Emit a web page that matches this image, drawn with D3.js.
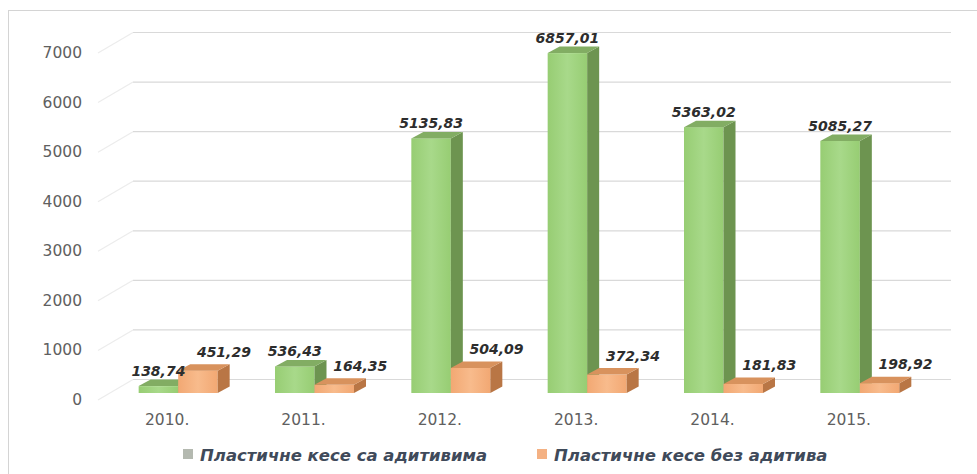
<!DOCTYPE html>
<html>
<head>
<meta charset="utf-8">
<script src="https://cdn.jsdelivr.net/npm/d3@7/dist/d3.min.js"></script>
<style>
  body { margin: 0; background: #fff; }
  svg { display: block; }
</style>
</head>
<body>
<div id="chart"></div>
<script>
// Data
const years = ["2010.", "2011.", "2012.", "2013.", "2014.", "2015."];
const withAdditives = [138.74, 536.43, 5135.83, 6857.01, 5363.02, 5085.27];
const withoutAdditives = [451.29, 164.35, 504.09, 372.34, 181.83, 198.92];
const seriesNames = ["Пластичне кесе са адитивима", "Пластичне кесе без адитива"];
const yTicks = [0, 1000, 2000, 3000, 4000, 5000, 6000, 7000];

const width = 977, height = 474;
const depth = {dx: 12, dy: -6.5};   // bar depth
const wall = {dx: 23, dy: -13.5};   // back wall offset

const svg = d3.select("#chart").append("svg")
    .attr("width", width)
    .attr("height", height);

// chart border (cut off on right / bottom like the picture)
svg.append("rect")
    .attr("x", 8.5).attr("y", 10.5)
    .attr("width", 980).attr("height", 480)
    .attr("fill", "none")
    .attr("stroke", "#d4d4d4");

let x = d3.scaleBand().domain(years).range([110, 928]);
let y = d3.scaleLinear().domain([0, 7000]).range([393, 46]);
let sub = d3.scaleBand().domain([0, 1])
    .range([x.bandwidth() / 2 - 39.5, x.bandwidth() / 2 + 39.5]);

// gradients
let defs = svg.append("defs");
function grad(id, c1, c2) {
    let g = defs.append("linearGradient").attr("id", id)
        .attr("x1", "0%").attr("x2", "100%");
    g.append("stop").attr("offset", "0%").attr("stop-color", c1);
    g.append("stop").attr("offset", "50%").attr("stop-color", c2);
    g.append("stop").attr("offset", "100%").attr("stop-color", c1);
}
grad("gGreen", "#97cd73", "#a8d98a");
grad("gOrange", "#f2a873", "#f8bb8c");

const colors = [
    {front: "url(#gGreen)", side: "#6d9450", top: "#82ad63"},
    {front: "url(#gOrange)", side: "#b97645", top: "#d8925d"}
];

// back wall gridlines
let x0 = x.range()[0], x1 = x.range()[1];
svg.append("g").selectAll("line").data(yTicks).enter().append("line")
    .attr("x1", x0 + wall.dx).attr("x2", x1 + wall.dx)
    .attr("y1", d => y(d) + wall.dy).attr("y2", d => y(d) + wall.dy)
    .attr("stroke", "#d9d9d9").attr("stroke-width", 1.2);

// side wall gridlines
svg.append("g").selectAll("line").data(yTicks).enter().append("line")
    .attr("x1", x0 - 12).attr("y1", d => y(d) + 7)
    .attr("x2", x0 + wall.dx).attr("y2", d => y(d) + wall.dy)
    .attr("stroke", "#ececec").attr("stroke-width", 1.2);

// y tick labels
svg.append("g").selectAll("text").data(yTicks).enter().append("text")
    .attr("x", 82).attr("y", d => y(d) + 7)
    .attr("text-anchor", "end")
    .attr("dominant-baseline", "central")
    .style("font-family", "DejaVu Sans")
    .style("font-size", "15.5px")
    .style("fill", "#606060")
    .text(d => d);

// category labels
svg.append("g").selectAll("text").data(years).enter().append("text")
    .attr("x", d => x(d) + x.bandwidth() / 2 - 11)
    .attr("y", 420)
    .attr("text-anchor", "middle")
    .attr("dominant-baseline", "central")
    .style("font-family", "DejaVu Sans")
    .style("font-size", "15.5px")
    .style("fill", "#606060")
    .text(d => d);

// build bar table
let bars = [];
years.forEach(function(yr, i) {
    bars.push({year: yr, s: 0, value: withAdditives[i]});
    bars.push({year: yr, s: 1, value: withoutAdditives[i]});
});

let barW = sub.bandwidth();
let g = svg.append("g").selectAll("g").data(bars).enter().append("g");

// front face
g.append("rect")
    .attr("x", d => x(d.year) + sub(d.s))
    .attr("y", d => y(d.value))
    .attr("width", barW)
    .attr("height", d => y(0) - y(d.value))
    .attr("fill", d => colors[d.s].front);

// side face
g.append("path")
    .attr("d", function(d) {
        let xr = x(d.year) + sub(d.s) + barW, yt = y(d.value), yb = y(0);
        return `M${xr},${yt} L${xr + depth.dx},${yt + depth.dy} L${xr + depth.dx},${yb + depth.dy} L${xr},${yb} Z`;
    })
    .attr("fill", d => colors[d.s].side);

// top face
g.append("path")
    .attr("d", function(d) {
        let xl = x(d.year) + sub(d.s), yt = y(d.value);
        return `M${xl},${yt} L${xl + depth.dx},${yt + depth.dy} L${xl + barW + depth.dx},${yt + depth.dy} L${xl + barW},${yt} Z`;
    })
    .attr("fill", d => colors[d.s].top);

// data labels
function fmt(v) { return v.toFixed(2).replace(".", ","); }
svg.append("g").selectAll("text").data(bars).enter().append("text")
    .attr("x", d => x(d.year) + sub(d.s) + barW / 2 + (d.s === 1 ? 26 : 0))
    .attr("y", d => y(d.value) - (d.s === 1 ? 19 : 15))
    .attr("text-anchor", "middle")
    .attr("dominant-baseline", "central")
    .style("font-family", "DejaVu Sans")
    .style("font-size", "14px")
    .style("font-weight", "bold")
    .style("font-style", "italic")
    .style("fill", "#2d2d2d")
    .text(d => fmt(d.value));

// legend
let legendX = [183, 537];
let legendSwatch = ["#b4b9b0", "#f4b183"];
let lg = svg.append("g").selectAll("g").data(seriesNames).enter().append("g");
lg.append("rect")
    .attr("x", (d, i) => legendX[i]).attr("y", 449)
    .attr("width", 10).attr("height", 10)
    .attr("fill", (d, i) => legendSwatch[i]);
lg.append("text")
    .attr("x", (d, i) => legendX[i] + 17).attr("y", 455)
    .attr("dominant-baseline", "central")
    .style("font-family", "DejaVu Sans")
    .style("font-size", "16.5px")
    .style("font-weight", "bold")
    .style("font-style", "italic")
    .style("fill", "#3f4a5a")
    .text(d => d);
</script>
</body>
</html>
